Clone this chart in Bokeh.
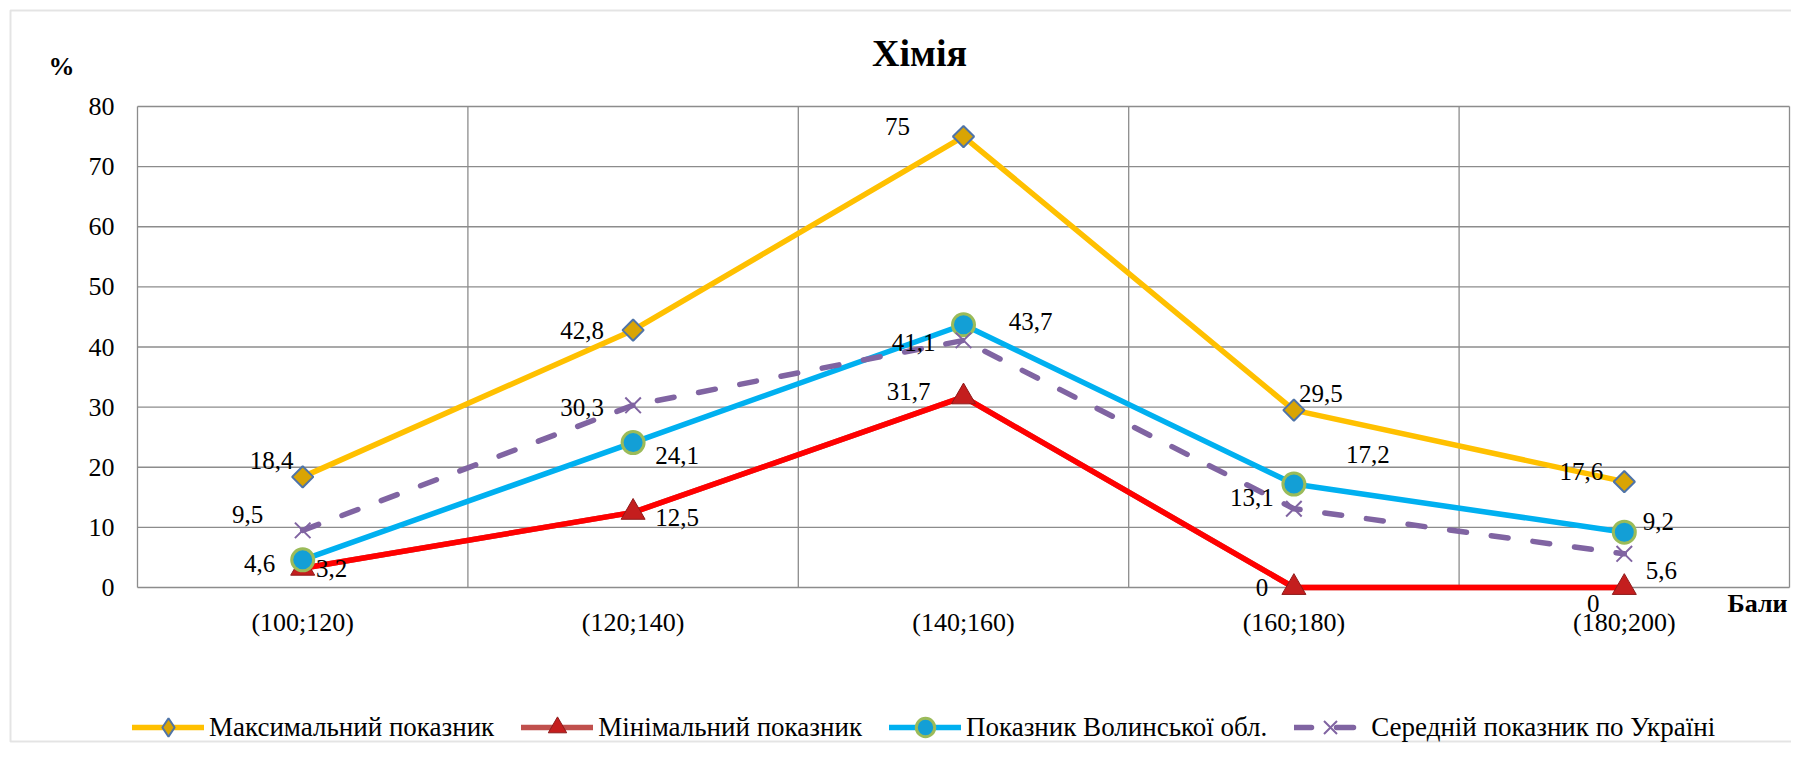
import math
from bokeh.plotting import figure
from bokeh.models import (ColumnDataSource, LabelSet, Label, Legend,
                          LegendItem, BoxAnnotation, Range1d)
from bokeh.embed import file_html
from bokeh.resources import INLINE

# ---------------- data ----------------
categories = ["(100;120)", "(120;140)", "(140;160)", "(160;180)", "(180;200)"]
max_vals = [18.4, 42.8, 75, 29.5, 17.6]
min_vals = [3.2, 12.5, 31.7, 0, 0]
volyn_vals = [4.6, 24.1, 43.7, 17.2, 9.2]
ukraine_vals = [9.5, 30.3, 41.1, 13.1, 5.6]
series_names = ["Максимальний показник", "Мінімальний показник",
                "Показник Волинської обл.", "Середній показник по Україні"]
y_ticks = [0, 10, 20, 30, 40, 50, 60, 70, 80]
y_tick_labels = [str(t) for t in y_ticks]
title_text = "Хімія"
y_title = "%"
x_title = "Бали"

# ---------------- styles / geometry ----------------
FONT = "Liberation Serif"
GRID = "#8C8C8C"
W, H = 1791, 743
PLOT_L, PLOT_R, PLOT_T, PLOT_B = 137, 1789, 106, 587   # pixel box of the value area

# label offsets in screen px (right +, down +)
label_offsets = [
    [(-31, -16), (-51, 0), (-66, -10), (27, -17), (-43, -10)],
    [(29, 0), (44, 5), (-55, -5), (-32, 0), (-31, 16)],
    [(-43, 4), (44, 13), (67, -3), (74, -30), (34, -11)],
    [(-55, -16), (-51, 2), (-50, 2), (-42, -11), (37, 17)],
]
styles = [
    dict(color="#FFC000", dash="solid", marker="square", size=15, angle=math.pi / 4,
         fill="#D9A404", line="#4F74A8", lw=2),
    dict(color="#FF0000", dash="solid", marker="triangle", size=24, angle=0,
         fill="#C41E1E", line="#8E1A1A", lw=1),
    dict(color="#00B0F0", dash="solid", marker="circle", size=22, angle=0,
         fill="#139FD6", line="#9BBB59", lw=3),
    dict(color="#8064A2", dash="17 25", marker="x", size=22, angle=0,
         fill="#8064A2", line="#8064A2", lw=2),
]
legend_colors = ["#FFC000", "#C0504D", "#00B0F0", "#8064A2"]

n = len(categories)
xs = [i + 0.5 for i in range(n)]
bounds = list(range(n + 1))
y_lo, y_hi = y_ticks[0], y_ticks[-1]

# scales so that the value area occupies PLOT_* pixels of a border-less frame
sx = (PLOT_R - PLOT_L) / n
sy = (PLOT_B - PLOT_T) / (y_hi - y_lo)
def px2x(fx):
    return (fx - PLOT_L) / sx
def px2y(fy):
    return y_lo + (PLOT_B - fy) / sy

p = figure(width=W, height=H, output_backend="svg", toolbar_location=None,
           x_range=Range1d(px2x(0), px2x(W)), y_range=Range1d(px2y(H), px2y(0)),
           min_border=0)
p.axis.visible = False
p.grid.visible = False
p.outline_line_color = None
p.background_fill_color = "white"
p.border_fill_color = "white"

# outer border (its right side lies beyond the page width)
p.add_layout(BoxAnnotation(left=px2x(10), right=px2x(W + 10), top=px2y(10),
                           bottom=px2y(H - 2), fill_alpha=0, line_color="#A6A6A6",
                           line_width=2, level="underlay"))

# grid / plot-area box
p.segment(x0=bounds, y0=[y_lo] * len(bounds), x1=bounds, y1=[y_hi] * len(bounds),
          line_color=GRID, line_width=1.3, level="underlay")
p.segment(x0=[0] * len(y_ticks), y0=y_ticks, x1=[n] * len(y_ticks), y1=y_ticks,
          line_color=GRID, line_width=1.3, level="underlay")

# tick labels
p.add_layout(LabelSet(x="x", y="y", text="t",
                      source=ColumnDataSource(dict(x=[0] * len(y_ticks), y=y_ticks,
                                                   t=y_tick_labels)),
                      x_offset=-23, text_font=FONT, text_font_size="26px",
                      text_align="right", text_baseline="middle", text_color="black"))
p.add_layout(LabelSet(x="x", y="y", text="t",
                      source=ColumnDataSource(dict(x=xs, y=[y_lo] * n, t=categories)),
                      y_offset=-35, text_font=FONT, text_font_size="26px",
                      text_align="center", text_baseline="middle", text_color="black"))

# series
all_vals = [max_vals, min_vals, volyn_vals, ukraine_vals]
legend_items = []
for k, (vals, st) in enumerate(zip(all_vals, styles)):
    renderers = []
    if legend_colors[k] != st["color"]:
        # legend proxy line, hidden beneath the plotted line of the same width
        renderers.append(p.line(xs, vals, line_color=legend_colors[k], line_width=5.5,
                                line_dash=st["dash"], line_cap="round",
                                line_join="round"))
    ln = p.line(xs, vals, line_color=st["color"], line_width=5.5,
                line_dash=st["dash"], line_cap="round", line_join="round")
    if not renderers:
        renderers.append(ln)
    if st["marker"] == "square":
        # legend proxy diamond, hidden beneath the rotated square
        renderers.append(p.scatter(xs, vals, marker="diamond", size=20,
                                   fill_color=st["fill"], line_color=st["line"],
                                   line_width=st["lw"]))
    sc = p.scatter(xs, vals, marker=st["marker"], size=st["size"], angle=st["angle"],
                   fill_color=st["fill"], line_color=st["line"], line_width=st["lw"])
    if st["marker"] != "square":
        renderers.append(sc)
    legend_items.append(LegendItem(label=series_names[k], renderers=renderers))

    texts = [f"{v:g}".replace(".", ",") for v in vals]
    src = ColumnDataSource(dict(x=xs, y=vals, text=texts,
                                dx=[o[0] for o in label_offsets[k]],
                                dy=[-o[1] for o in label_offsets[k]]))
    p.add_layout(LabelSet(x="x", y="y", text="text", source=src, x_offset="dx",
                          y_offset="dy", text_font=FONT, text_font_size="25px",
                          text_align="center", text_baseline="middle",
                          text_color="black"))

legend = Legend(items=legend_items, orientation="horizontal", location=(132, -7),
                glyph_width=72, glyph_height=46, label_standoff=5, spacing=27,
                padding=0, margin=0, border_line_color=None, background_fill_alpha=0,
                label_text_font=FONT, label_text_font_size="27px",
                label_text_color="black")
p.add_layout(legend, "center")

# titles
p.add_layout(Label(x=px2x(919), y=px2y(52), text=title_text,
                   text_font=FONT, text_font_size="38px", text_font_style="bold",
                   text_align="center", text_baseline="middle", text_color="black"))
p.add_layout(Label(x=px2x(61), y=px2y(66), text=y_title,
                   text_font=FONT, text_font_size="26px", text_font_style="bold",
                   text_align="center", text_baseline="middle", text_color="black"))
p.add_layout(Label(x=px2x(1757), y=px2y(603), text=x_title,
                   text_font=FONT, text_font_size="26px", text_font_style="bold",
                   text_align="center", text_baseline="middle", text_color="black"))

open("out.html", "w").write(file_html(p, INLINE))
